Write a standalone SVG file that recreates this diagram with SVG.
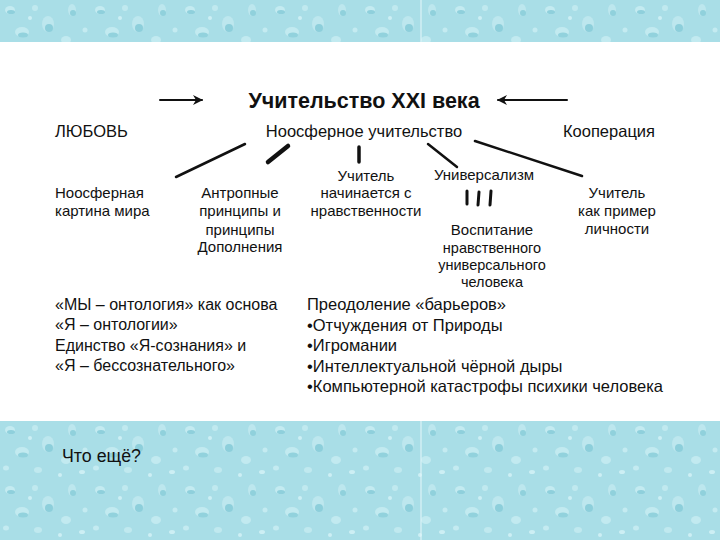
<svg xmlns="http://www.w3.org/2000/svg" width="720" height="540" viewBox="0 0 720 540">
<defs>
<pattern id="drops" width="90" height="60" patternUnits="userSpaceOnUse">
<rect width="90" height="60" fill="#a9dee7"/>
<ellipse cx="10" cy="10" rx="5" ry="4" fill="#c4ebf1"/>
<ellipse cx="11" cy="12" rx="4" ry="2" fill="#8fd0dc"/>
<ellipse cx="35" cy="8" rx="3" ry="3" fill="#c0e9ef"/>
<ellipse cx="48" cy="24" rx="6" ry="8" fill="#bde7ee"/>
<ellipse cx="49" cy="28" rx="4" ry="4" fill="#8dcfdb"/>
<ellipse cx="22" cy="32" rx="7" ry="5" fill="#c2eaf0"/>
<ellipse cx="23" cy="35" rx="5" ry="2.5" fill="#92d2dd"/>
<ellipse cx="6" cy="48" rx="3" ry="2.5" fill="#c4ebf1"/>
<ellipse cx="38" cy="50" rx="4" ry="3" fill="#c0e9ef"/>
<ellipse cx="30" cy="18" rx="2" ry="2" fill="#cdeff4"/>
<ellipse cx="72" cy="10" rx="4" ry="6" fill="#bde7ee"/>
<ellipse cx="73" cy="13" rx="3" ry="3" fill="#90d1dc"/>
<ellipse cx="66" cy="40" rx="5" ry="4" fill="#c2eaf0"/>
<ellipse cx="82" cy="52" rx="3" ry="2" fill="#cdeff4"/>
<ellipse cx="60" cy="55" rx="2" ry="2" fill="#cdeff4"/>
<ellipse cx="85" cy="30" rx="2.5" ry="2.5" fill="#c4ebf1"/>
</pattern>
<marker id="ah" viewBox="0 0 10 10" refX="9" refY="5" markerWidth="5" markerHeight="5" orient="auto-start-reverse" markerUnits="strokeWidth">
<path d="M0,0 L10,5 L0,10 L3,5 Z" fill="#111"/>
</marker>
<style>
text{font-family:"Liberation Sans",Arial,sans-serif;fill:#111}
.t{font-size:15px}
.s{font-size:14.5px}
.m{font-size:16.5px}
.c{text-anchor:middle}
.ln{stroke:#111;fill:none;stroke-linecap:round}
</style>
</defs>
<rect width="720" height="540" fill="#fff"/>
<rect x="0" y="0" width="720" height="42" fill="url(#drops)"/>
<rect x="0" y="421" width="720" height="119" fill="url(#drops)"/>
<line x1="421" y1="0" x2="421" y2="42" stroke="#e6f7fa" stroke-width="1"/>
<line x1="421" y1="421" x2="421" y2="540" stroke="#e6f7fa" stroke-width="1"/>

<g id="connectors">
<line class="ln" x1="160" y1="100" x2="202" y2="100" stroke-width="2" marker-end="url(#ah)"/>
<line class="ln" x1="567" y1="100" x2="498" y2="100" stroke-width="2" marker-end="url(#ah)"/>
<line class="ln" x1="245" y1="144" x2="176" y2="177" stroke-width="2.5"/>
<line class="ln" x1="288" y1="146" x2="268" y2="162" stroke-width="4.5"/>
<line class="ln" x1="359" y1="147" x2="359" y2="162" stroke-width="3.5" stroke-linecap="butt"/>
<line class="ln" x1="428" y1="144" x2="457" y2="167" stroke-width="2.5"/>
<line class="ln" x1="475" y1="141" x2="582" y2="176" stroke-width="2.5"/>
<line class="ln" x1="467" y1="191" x2="467" y2="204" stroke-width="3" stroke-linecap="butt"/>
<line class="ln" x1="479" y1="192" x2="478" y2="205" stroke-width="3" stroke-linecap="butt"/>
<line class="ln" x1="491" y1="191" x2="490" y2="205" stroke-width="3" stroke-linecap="butt"/>
</g>

<g id="title"><text x="364" y="108" class="c" style="font-size:21.5px;font-weight:bold">Учительство XXI века</text></g>
<g id="love"><text x="55" y="137" class="m">ЛЮБОВЬ</text></g>
<g id="noosphere"><text x="364" y="137" class="m c">Ноосферное учительство</text></g>
<g id="coop"><text x="655" y="137" class="m" text-anchor="end">Кооперация</text></g>

<g id="n1"><text class="t" x="55" y="198">Ноосферная</text><text class="t" x="55" y="216">картина мира</text></g>
<g id="n2"><text class="t c" x="240" y="198">Антропные</text><text class="t c" x="240" y="216">принципы и</text><text class="t c" x="240" y="235">принципы</text><text class="t c" x="240" y="252">Дополнения</text></g>
<g id="n3"><text class="t c" x="366" y="181">Учитель</text><text class="t c" x="366" y="198">начинается с</text><text class="t c" x="366" y="216">нравственности</text></g>
<g id="n4"><text class="t c" x="484" y="180">Универсализм</text></g>
<g id="n5"><text class="t c" x="492" y="235">Воспитание</text><text class="s c" x="492" y="253">нравственного</text><text class="s c" x="492" y="270">универсального</text><text class="s c" x="492" y="287">человека</text></g>
<g id="n6"><text class="t c" x="617" y="198">Учитель</text><text class="t c" x="617" y="216">как пример</text><text class="t c" x="617" y="234">личности</text></g>

<g id="left-block">
<text style="font-size:16px" x="55" y="310">«МЫ – онтология» как основа</text>
<text style="font-size:16px" x="55" y="330">«Я – онтологии»</text>
<text style="font-size:16px" x="55" y="351">Единство «Я-сознания» и</text>
<text style="font-size:16px" x="55" y="371">«Я – бессознательного»</text>
</g>
<g id="right-block">
<text class="m" x="307" y="310">Преодоление «барьеров»</text>
<text class="m" x="307" y="331">•Отчуждения от Природы</text>
<text class="m" x="307" y="351">•Игромании</text>
<text class="m" x="307" y="372">•Интеллектуальной чёрной дыры</text>
<text class="m" x="307" y="392">•Компьютерной катастрофы психики человека</text>
</g>
<g id="footer"><text x="62" y="462" style="font-size:17.5px" textLength="79" lengthAdjust="spacingAndGlyphs">Что ещё?</text></g>
</svg>
